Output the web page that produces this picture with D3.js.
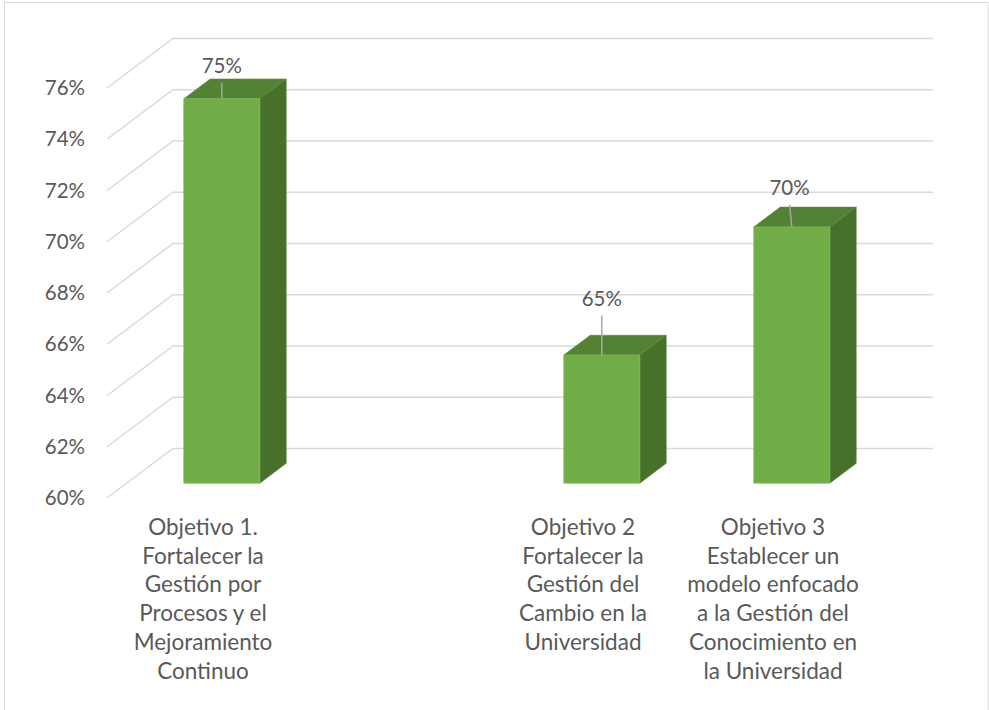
<!DOCTYPE html>
<html>
<head>
<meta charset="utf-8">
<script src="https://cdn.jsdelivr.net/npm/d3@7"></script>
<style>
  html, body { margin: 0; padding: 0; background: #ffffff; }
  svg { display: block; }
  text { font-family: Lato, "Open Sans", sans-serif; fill: #595959; }
</style>
</head>
<body>
<svg id="chart" width="989" height="710"></svg>
<script>
// Category labels, one array of lines per category (the second slot is empty)
const categoryLines = [
  ["Objetivo 1.", "Fortalecer la", "Gestión por", "Procesos y el", "Mejoramiento", "Continuo"],
  [],
  ["Objetivo 2", "Fortalecer la", "Gestión del", "Cambio en la", "Universidad"],
  ["Objetivo 3", "Establecer un", "modelo enfocado", "a la Gestión del", "Conocimiento en", "la Universidad"]
];
const values = [0.75, null, 0.65, 0.70];
const yTicks = [0.60, 0.62, 0.64, 0.66, 0.68, 0.70, 0.72, 0.74, 0.76];

const svg = d3.select("#chart");
const W = 989, H = 710;

// outer chart-area border
svg.append("rect")
  .attr("x", 4.5).attr("y", 2.5).attr("width", W - 5.5).attr("height", H + 20)
  .attr("fill", "#ffffff").attr("stroke", "#d9d9d9").attr("stroke-width", 1);

// front plane of the plot area
const x0 = 107, x1 = 867;
const y = d3.scaleLinear().domain([0.60, 0.76]).range([498, 88]);
const x = d3.scaleBand().domain(d3.range(categoryLines.length)).range([x0, x1]).paddingInner(0.6).paddingOuter(0.3);
const slot = d3.scaleBand().domain(d3.range(categoryLines.length)).range([x0, x1]);

// oblique depth projection: z = 0 front, z = 1 back wall
const DX = 66, DY = 49.5;
const proj = (px, v, z) => [px + z * DX, y(v) - z * DY];
const poly = pts => pts.map(p => p.join(",")).join(" ");

// gridlines: left wall diagonal + back wall horizontal
const grid = svg.append("g");
yTicks.forEach(t => {
  grid.append("polyline")
    .attr("points", poly([proj(x0, t, 0), proj(x0, t, 1), proj(x1, t, 1)]))
    .attr("fill", "none").attr("stroke", "#d9d9d9").attr("stroke-width", 1.5);
});

// y-axis tick labels
const fmt = d3.format(".0%");
svg.append("g").selectAll("text").data(yTicks).join("text")
  .attr("x", 85).attr("y", d => y(d))
  .attr("dy", "0.35em")
  .attr("text-anchor", "end")
  .style("font-size", "20.5px")
  .text(d => fmt(d));

// 3D columns
const z0 = 0.30, z1 = 0.70, base = 0.60;
const bars = svg.append("g");
values.forEach((v, i) => {
  if (v == null) return;
  const bx = x(i), bw = x.bandwidth();
  const g = bars.append("g");
  // side face
  g.append("polygon")
    .attr("points", poly([proj(bx + bw, base, z0), proj(bx + bw, v, z0), proj(bx + bw, v, z1), proj(bx + bw, base, z1)]))
    .attr("fill", "#47702b").attr("stroke", "#4f7c31").attr("stroke-width", 0.6);
  // top face
  g.append("polygon")
    .attr("points", poly([proj(bx, v, z0), proj(bx + bw, v, z0), proj(bx + bw, v, z1), proj(bx, v, z1)]))
    .attr("fill", "#548235").attr("stroke", "#5c8d3b").attr("stroke-width", 0.6);
  // front face
  g.append("polygon")
    .attr("points", poly([proj(bx, base, z0), proj(bx + bw, base, z0), proj(bx + bw, v, z0), proj(bx, v, z0)]))
    .attr("fill", "#70ad47").attr("stroke", "#7dba54").attr("stroke-width", 0.8);
});

// data labels with leader lines (labels were dragged above the columns)
const labelShift = { 0: [0, -26], 2: [0, -49.5], 3: [-2.2, -31.7] };
const leaderGap = 10;
const labels = svg.append("g");
values.forEach((v, i) => {
  if (v == null) return;
  const [cx, cy] = proj(x(i) + x.bandwidth() / 2, v, z0);
  const [sx, sy] = labelShift[i];
  labels.append("line")
    .attr("x1", cx).attr("y1", cy)
    .attr("x2", cx + sx).attr("y2", cy + sy + leaderGap)
    .attr("stroke", "#a6a6a6").attr("stroke-width", 1.5);
  labels.append("text")
    .attr("x", cx + sx).attr("y", cy + sy)
    .attr("text-anchor", "middle")
    .style("font-size", "20.5px")
    .text(fmt(v));
});

// category labels, centred under each slot on the front plane
const catG = svg.append("g");
categoryLines.forEach((lines, i) => {
  const cx = slot(i) + slot.bandwidth() / 2 + 1;
  const t = catG.append("text")
    .attr("text-anchor", "middle")
    .style("font-size", "22.5px");
  lines.forEach((ln, k) => {
    t.append("tspan").attr("x", cx).attr("y", 535 + k * 28.7).text(ln);
  });
});
</script>
</body>
</html>
